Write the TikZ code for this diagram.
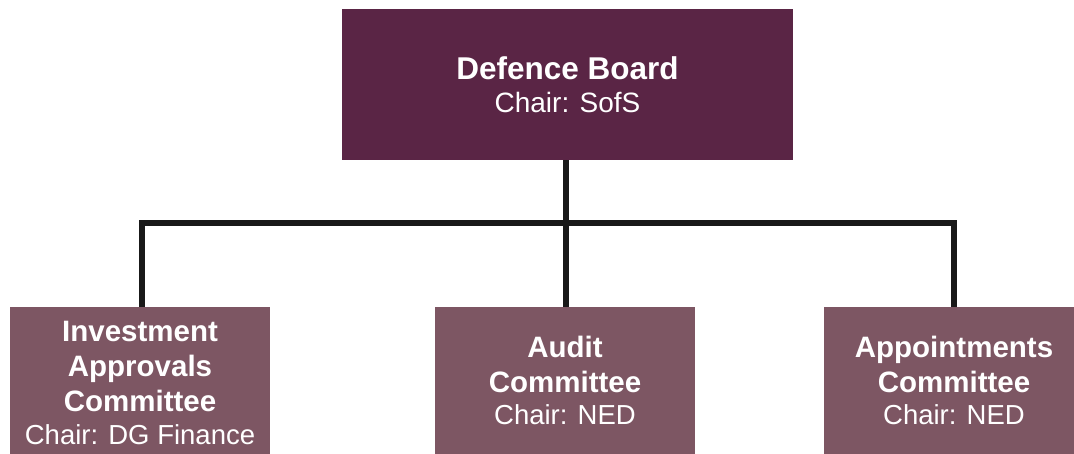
\documentclass[tikz,border=0pt]{standalone}
\usepackage{fontspec}
\setmainfont{Liberation Sans}
\definecolor{boardcol}{HTML}{5A2545}
\definecolor{cttecol}{HTML}{7D5663}
\newcommand{\ctname}[1]{{\fontsize{29.5}{35}\selectfont\textbf{#1}}}

\begin{document}
\begin{tikzpicture}[x=1pt,y=-1pt,
    board/.style={fill=boardcol, text=white, align=center, minimum width=451pt,
      minimum height=151pt, inner sep=0pt, font=\fontsize{28}{33}\selectfont},
    ctte/.style={fill=cttecol, text=white, align=center, minimum width=260pt,
      minimum height=147pt, inner sep=0pt, font=\fontsize{27.5}{35}\selectfont},
    link/.style={line width=6pt, color=black!90}]
    \useasboundingbox (0,0) rectangle (1074,454);
    \clip (0,0) rectangle (1074,454);

    \node[board] (board) at (567.5,84.5) {{\fontsize{31.5}{33}\selectfont\textbf{Defence Board}}\\Chair: SofS};

    \node[ctte, minimum height=152pt] (iac) at (140,383) {\ctname{Investment}\\\ctname{Approvals}\\\ctname{Committee}\\[-2pt]Chair: DG Finance};
    \node[ctte] (audit) at (565,380.5) {\ctname{Audit}\\\ctname{Committee}\\[-3pt]Chair: NED};
    \node[ctte] (appt) at (954,380.5) {\ctname{Appointments}\\\ctname{Committee}\\[-3pt]Chair: NED};

    \coordinate (bus) at (566,223);
    \draw[link] (board.south -| bus) -- (bus |- audit.north);
    \draw[link] (iac.north -| 142,0) |- (bus) -| (appt.north);
  \end{tikzpicture}
\end{document}
